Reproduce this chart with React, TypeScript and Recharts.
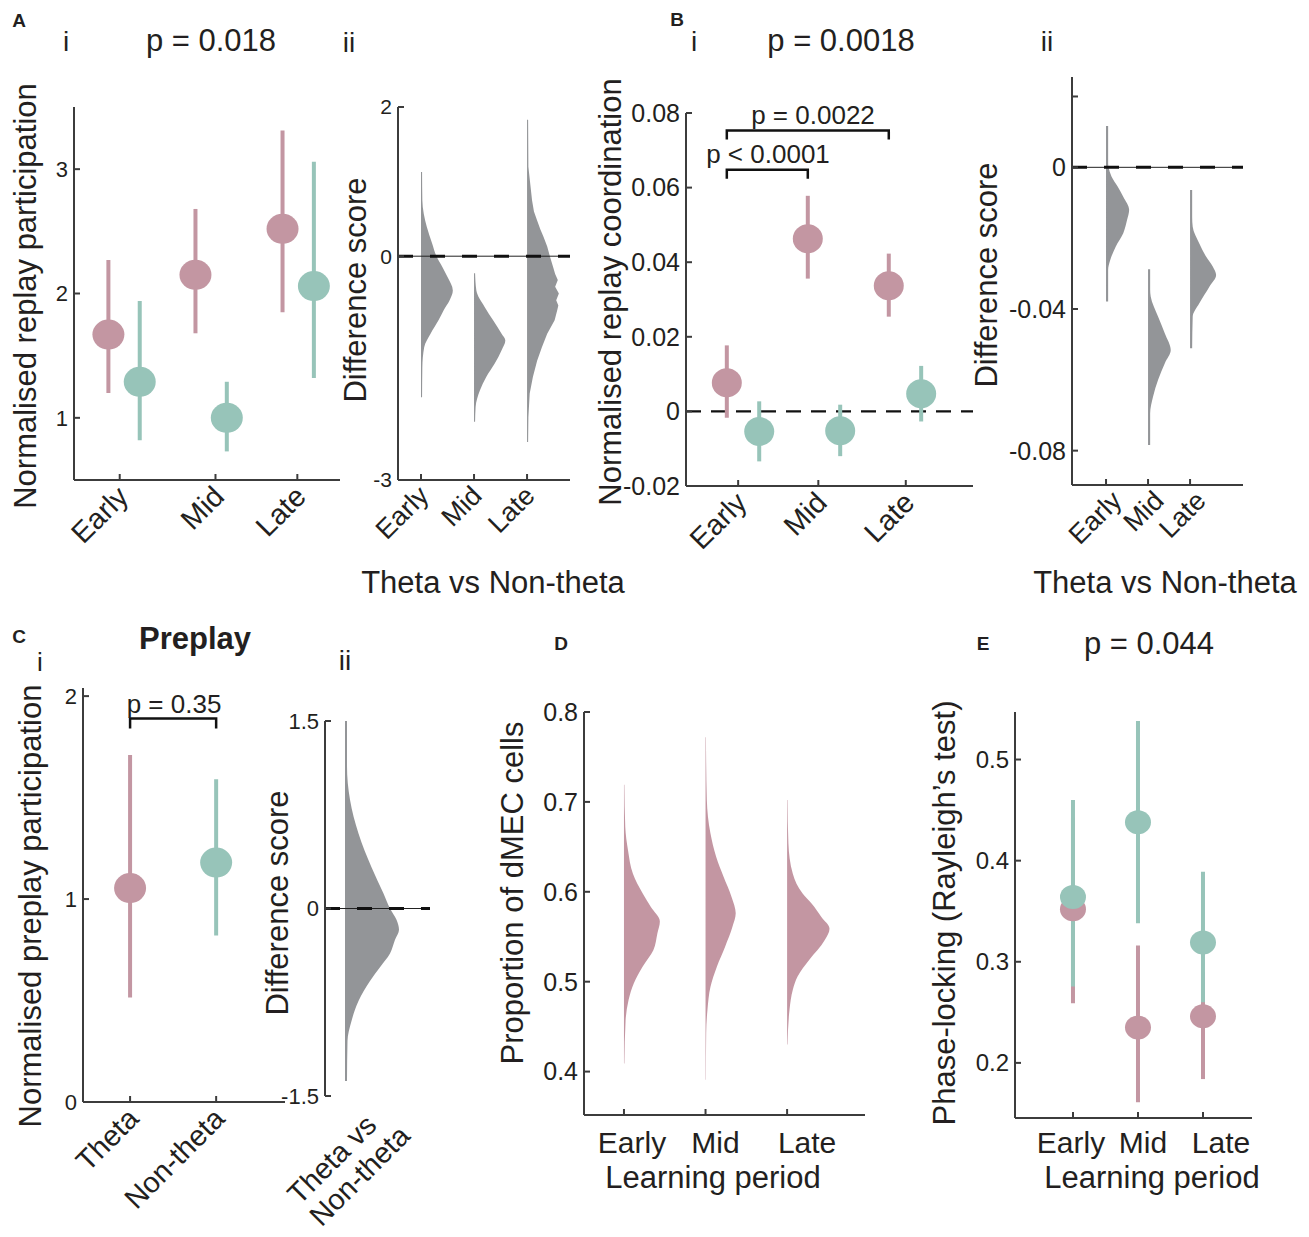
import React from "react";
import { Area, ComposedChart, ErrorBar, Line, ReferenceLine, Scatter, XAxis, YAxis } from "recharts";

const FONT = '"Liberation Sans", Arial, Helvetica, sans-serif';
const PINK = "#c396a2";
const TEAL = "#97c4b9";
const GREY = "#939598";
const INK = "#231f20";
const AXIS = "#3c3c3c";

const PERIODS = ["Early", "Mid", "Late"];
const STATES = ["Theta", "Non-theta"];

// A i - normalised replay participation, mean and interval
const A1_THETA = [1.67, 2.15, 2.52];
const A1_THETA_LO = [1.2, 1.68, 1.85];
const A1_THETA_HI = [2.27, 2.68, 3.31];
const A1_NONTHETA = [1.29, 1.0, 2.06];
const A1_NONTHETA_LO = [0.82, 0.73, 1.32];
const A1_NONTHETA_HI = [1.94, 1.29, 3.06];
const A1_TICKS = [0.95, 2.05, 2.99];

// A ii - difference score distributions, [value, half width]
const A2_EARLY = [
  [1.13, 0.02], [0.75, 0.025], [0.39, 0.11], [0.17, 0.21], [0, 0.29], [-0.14, 0.4], [-0.28, 0.5],
  [-0.46, 0.6], [-0.59, 0.54], [-0.72, 0.43], [-0.86, 0.33], [-1.04, 0.18], [-1.22, 0.06],
  [-1.49, 0.025], [-1.89, 0.02],
];
const A2_MID = [
  [-0.23, 0.02], [-0.46, 0.044], [-0.68, 0.2], [-0.86, 0.36], [-1.04, 0.52], [-1.13, 0.59],
  [-1.26, 0.52], [-1.44, 0.39], [-1.62, 0.23], [-1.8, 0.11], [-2.02, 0.03], [-2.22, 0.02],
];
const A2_LATE = [
  [1.83, 0.02], [1.2, 0.025], [0.75, 0.094], [0.6, 0.13], [0.48, 0.19], [0.36, 0.25], [0.26, 0.31],
  [0.13, 0.38], [0, 0.43], [-0.14, 0.49], [-0.24, 0.53], [-0.32, 0.58], [-0.41, 0.53],
  [-0.5, 0.6], [-0.59, 0.55], [-0.66, 0.59], [-0.72, 0.57], [-0.86, 0.52], [-0.95, 0.45],
  [-1.04, 0.38], [-1.22, 0.28], [-1.4, 0.19], [-1.62, 0.11], [-1.84, 0.05], [-2.16, 0.025],
  [-2.49, 0.02],
];

// B i - normalised replay coordination
const B1_THETA = [0.0077, 0.0463, 0.0337];
const B1_THETA_LO = [-0.0017, 0.0356, 0.0254];
const B1_THETA_HI = [0.0177, 0.0578, 0.0423];
const B1_NONTHETA = [-0.0054, -0.0052, 0.0047];
const B1_NONTHETA_LO = [-0.0134, -0.012, -0.0027];
const B1_NONTHETA_HI = [0.0027, 0.0018, 0.0122];
const B1_TICKS = [0.94, 1.93, 3.01];

// B ii - difference score distributions
const B2_EARLY = [
  [0.0117, 0.05], [0.001, 0.05], [0, 0.06], [-0.0026, 0.13], [-0.0055, 0.28], [-0.0083, 0.41],
  [-0.012, 0.55], [-0.0149, 0.5], [-0.0186, 0.41], [-0.0224, 0.23], [-0.0262, 0.1],
  [-0.029, 0.05], [-0.0379, 0.05],
];
const B2_MID = [
  [-0.0288, 0.05], [-0.0345, 0.05], [-0.0365, 0.063], [-0.0422, 0.24], [-0.0469, 0.4],
  [-0.0516, 0.54], [-0.0553, 0.4], [-0.06, 0.24], [-0.0647, 0.12], [-0.0695, 0.05], [-0.0784, 0.05],
];
const B2_LATE = [
  [-0.0064, 0.05], [-0.014, 0.05], [-0.0168, 0.063], [-0.0215, 0.22], [-0.0252, 0.38],
  [-0.028, 0.54], [-0.0304, 0.62], [-0.0337, 0.46], [-0.0384, 0.22], [-0.0422, 0.063], [-0.0511, 0.05],
];

// C i - preplay participation
const C1_MEAN = [1.054, 1.18];
const C1_LO = [0.515, 0.82];
const C1_HI = [1.71, 1.59];

// C ii - difference score distribution
const C2_DIFF = [
  [1.51, 0.04], [1.14, 0.04], [0.87, 0.1], [0.6, 0.27], [0.33, 0.53], [0.12, 0.77], [0, 0.9],
  [-0.09, 1.03], [-0.17, 1.08], [-0.25, 1.0], [-0.36, 0.9], [-0.47, 0.7], [-0.58, 0.5],
  [-0.74, 0.27], [-0.9, 0.13], [-1.06, 0.05], [-1.38, 0.04],
];

// D - proportion of dMEC cells
const D_EARLY = [
  [0.719, 0.005], [0.672, 0.016], [0.646, 0.05], [0.62, 0.11], [0.598, 0.23], [0.583, 0.33],
  [0.567, 0.44], [0.554, 0.41], [0.535, 0.36], [0.517, 0.23], [0.498, 0.12], [0.48, 0.057],
  [0.457, 0.02], [0.409, 0.005],
];
const D_MID = [
  [0.772, 0.005], [0.702, 0.016], [0.665, 0.06], [0.639, 0.13], [0.617, 0.22], [0.594, 0.32],
  [0.576, 0.37], [0.561, 0.33], [0.539, 0.24], [0.517, 0.14], [0.494, 0.06], [0.469, 0.024],
  [0.443, 0.008], [0.391, 0.004],
];
const D_LATE = [
  [0.702, 0.005], [0.654, 0.016], [0.62, 0.07], [0.598, 0.19], [0.587, 0.3], [0.572, 0.42],
  [0.559, 0.52], [0.546, 0.46], [0.524, 0.27], [0.506, 0.13], [0.491, 0.07], [0.469, 0.03],
  [0.43, 0.005],
];

// E - phase locking
const E_THETA = [0.352, 0.235, 0.246];
const E_THETA_LO = [0.259, 0.161, 0.184];
const E_THETA_HI = [0.443, 0.316, 0.29];
const E_NONTHETA = [0.364, 0.438, 0.319];
const E_NONTHETA_LO = [0.2755, 0.338, 0.26];
const E_NONTHETA_HI = [0.46, 0.538, 0.389];

function points(mean: number[], lo: number[], hi: number[], shift: number) {
  return mean.map((m, i) => ({ x: i + 1 + shift, y: m, err: [m - lo[i], hi[i] - m] }));
}

function violin(profile: number[][], at: number) {
  return profile.map(([y, w]) => ({ y, band: [at, at + w] }));
}

const YW = 80;
const XH = 135;
const MT = 16;
const MR = 16;
const axisStyle = { stroke: AXIS, strokeWidth: 2 };

function Panel({ box, layout, children }: { box: number[]; layout?: "vertical" | "horizontal"; children: React.ReactNode }) {
  const [l, t, r, b] = box;
  return (
    <div style={{ position: "absolute", left: l - YW, top: t - MT }}>
      <ComposedChart
        width={YW + r - l + MR}
        height={MT + b - t + XH}
        margin={{ top: MT, right: MR, bottom: 0, left: 0 }}
        layout={layout ?? "horizontal"}
      >
        {children}
      </ComposedChart>
    </div>
  );
}

function SlantTick(props: any) {
  const { x, y, index, names, size, nudge = 0 } = props;
  const ax = x - 5 + nudge;
  const ay = y + 3;
  return (
    <text
      x={ax}
      y={ay}
      dy="0.75em"
      textAnchor="end"
      transform={`rotate(-45 ${ax} ${ay})`}
      fontSize={size}
      fontFamily={FONT}
      fill={INK}
    >
      {names[index]}
    </text>
  );
}

function FlatTick(props: any) {
  const { x, y, index, names, shift, drop } = props;
  return (
    <text x={x + shift[index]} y={y + drop} textAnchor="middle" fontSize={30} fontFamily={FONT} fill={INK}>
      {names[index]}
    </text>
  );
}

function yAxis(domain: number[], ticks: number[], size: number, flip = false, fmt?: (v: number) => string) {
  return (
    <YAxis
      type="number"
      dataKey="y"
      domain={domain}
      ticks={ticks}
      reversed={flip}
      allowDataOverflow
      interval={0}
      width={YW}
      axisLine={axisStyle}
      tickLine={axisStyle}
      tickSize={-6}
      tickMargin={12}
      tick={{ fill: INK, fontSize: size, fontFamily: FONT }}
      tickFormatter={fmt ?? ((v: number) => String(v))}
    />
  );
}

function xAxis(domain: number[], ticks: number[], tick: React.ReactElement | false, hidden?: boolean) {
  return (
    <XAxis
      type="number"
      dataKey="x"
      domain={domain}
      ticks={ticks}
      allowDataOverflow
      interval={0}
      height={XH}
      axisLine={hidden ? false : axisStyle}
      tickLine={hidden ? false : axisStyle}
      tickSize={-6}
      tickMargin={6}
      tick={tick}
    />
  );
}

const dot = (fill: string, rx: number, ry: number) => (p: any) => (
  <ellipse cx={p.cx} cy={p.cy} rx={rx} ry={ry} fill={fill} />
);

function zeroLine(dash: string, width: number, thin: boolean) {
  return [
    thin ? <ReferenceLine key="thin" y={0} stroke="#222" strokeWidth={1} /> : null,
    <ReferenceLine key="dash" y={0} stroke="#111" strokeWidth={width} strokeDasharray={dash} />,
  ];
}

function Text({ x, y, size = 31, bold, rotate, children }: any) {
  return (
    <div
      style={{
        position: "absolute",
        left: x,
        top: y,
        transform: `translate(-50%, -50%)${rotate ? ` rotate(${rotate}deg)` : ""}`,
        fontSize: size,
        fontWeight: bold ? 700 : 400,
        fontFamily: FONT,
        color: INK,
        whiteSpace: "nowrap",
        lineHeight: 1,
      }}
    >
      {children}
    </div>
  );
}

function bracket(x1: number, x2: number, top: number, foot: number) {
  return [
    { x: x1, y: foot },
    { x: x1, y: top },
    { x: x2, y: top },
    { x: x2, y: foot },
  ];
}

export default function App() {
  const violinArea = (key: string, data: any[], fill: string, curve: "monotone" | "linear" = "monotone") => (
    <Area
      key={key}
      data={data}
      dataKey="band"
      type={curve}
      stroke="none"
      fill={fill}
      fillOpacity={1}
      dot={false}
      activeDot={false}
      isAnimationActive={false}
    />
  );

  return (
    <div style={{ position: "absolute", left: 0, top: 0, width: 1309, height: 1237, background: "#fff", fontFamily: FONT }}>
      {/* A i */}
      <Panel box={[74, 107, 340, 480]}>
        {xAxis([0.425, 3.48], A1_TICKS, <SlantTick names={PERIODS} size={29} />)}
        {yAxis([0.5, 3.5], [1, 2, 3], 22)}
        <Scatter data={points(A1_THETA, A1_THETA_LO, A1_THETA_HI, -0.18)} fill={PINK} shape={dot(PINK, 16, 15)} isAnimationActive={false}>
          <ErrorBar dataKey="err" direction="y" width={0} stroke={PINK} strokeWidth={4} isAnimationActive={false} />
        </Scatter>
        <Scatter data={points(A1_NONTHETA, A1_NONTHETA_LO, A1_NONTHETA_HI, 0.18)} fill={TEAL} shape={dot(TEAL, 16, 15)} isAnimationActive={false}>
          <ErrorBar dataKey="err" direction="y" width={0} stroke={TEAL} strokeWidth={4} isAnimationActive={false} />
        </Scatter>
      </Panel>

      {/* A ii */}
      <Panel box={[398, 107, 570, 480]} layout="vertical">
        {xAxis([0.566, 3.81], [1, 2, 3], <SlantTick names={PERIODS} size={27} />)}
        {yAxis([-3, 2], [-3, 0, 2], 21, true)}
        {violinArea("e", violin(A2_EARLY, 1), GREY)}
        {violinArea("m", violin(A2_MID, 2), GREY)}
        {violinArea("l", violin(A2_LATE, 3), GREY, "linear")}
        {zeroLine("15 17", 3, true)}
      </Panel>

      {/* B i */}
      <Panel box={[686, 113, 973, 486]}>
        {xAxis([0.296, 3.84], B1_TICKS, <SlantTick names={PERIODS} size={29} />)}
        {yAxis([-0.02, 0.08], [-0.02, 0, 0.02, 0.04, 0.06, 0.08], 25)}
        {zeroLine("15 10", 2.2, false)}
        <Line data={bracket(0.8, 2.8, 0.0753, 0.0729)} dataKey="y" type="linear" stroke="#111" strokeWidth={2.5} dot={false} isAnimationActive={false} />
        <Line data={bracket(0.8, 1.8, 0.0648, 0.0624)} dataKey="y" type="linear" stroke="#111" strokeWidth={2.5} dot={false} isAnimationActive={false} />
        <Scatter data={points(B1_THETA, B1_THETA_LO, B1_THETA_HI, -0.2)} fill={PINK} shape={dot(PINK, 15, 14.5)} isAnimationActive={false}>
          <ErrorBar dataKey="err" direction="y" width={0} stroke={PINK} strokeWidth={4} isAnimationActive={false} />
        </Scatter>
        <Scatter data={points(B1_NONTHETA, B1_NONTHETA_LO, B1_NONTHETA_HI, 0.2)} fill={TEAL} shape={dot(TEAL, 15, 14.5)} isAnimationActive={false}>
          <ErrorBar dataKey="err" direction="y" width={0} stroke={TEAL} strokeWidth={4} isAnimationActive={false} />
        </Scatter>
      </Panel>

      {/* B ii */}
      <Panel box={[1072, 77, 1243, 485]} layout="vertical">
        {xAxis([0.19, 4.26], [1, 2, 3], <SlantTick names={PERIODS} size={27} nudge={8} />)}
        {yAxis([-0.0897, 0.0255], [-0.08, -0.04, 0, 0.02], 25, true, (v) => (v === 0.02 ? "" : String(v)))}
        {violinArea("e", violin(B2_EARLY, 1), GREY)}
        {violinArea("m", violin(B2_MID, 2), GREY)}
        {violinArea("l", violin(B2_LATE, 3), GREY)}
        {zeroLine("15 17", 3, true)}
      </Panel>

      {/* C i */}
      <Panel box={[83, 688, 285, 1102]}>
        {xAxis([0.453, 2.8], [1, 2], <SlantTick names={STATES} size={29} />)}
        {yAxis([0, 2.04], [0, 1, 2], 22)}
        <Line data={bracket(1, 2, 1.89, 1.84)} dataKey="y" type="linear" stroke="#111" strokeWidth={2.5} dot={false} isAnimationActive={false} />
        <Scatter data={points(C1_MEAN, C1_LO, C1_HI, 0).slice(0, 1)} fill={PINK} shape={dot(PINK, 16, 15)} isAnimationActive={false}>
          <ErrorBar dataKey="err" direction="y" width={0} stroke={PINK} strokeWidth={4} isAnimationActive={false} />
        </Scatter>
        <Scatter data={points(C1_MEAN, C1_LO, C1_HI, 0).slice(1)} fill={TEAL} shape={dot(TEAL, 16, 15)} isAnimationActive={false}>
          <ErrorBar dataKey="err" direction="y" width={0} stroke={TEAL} strokeWidth={4} isAnimationActive={false} />
        </Scatter>
      </Panel>

      {/* C ii */}
      <Panel box={[325, 721, 430, 1096]} layout="vertical">
        {xAxis([0, 2.1], [], false, true)}
        {yAxis([-1.5, 1.5], [-1.5, 0, 1.5], 22, true)}
        {violinArea("d", violin(C2_DIFF, 0.4), GREY)}
        {zeroLine("15 17", 3, true)}
      </Panel>

      {/* D */}
      <Panel box={[584, 712, 865, 1115]} layout="vertical">
        {xAxis([0.51, 3.955], [1, 2, 3], <FlatTick names={PERIODS} shift={[8, 10, 20]} drop={38} />)}
        {yAxis([0.3517, 0.8], [0.4, 0.5, 0.6, 0.7, 0.8], 25, true)}
        {violinArea("e", violin(D_EARLY, 1), PINK)}
        {violinArea("m", violin(D_MID, 2), PINK)}
        {violinArea("l", violin(D_LATE, 3), PINK)}
      </Panel>

      {/* E */}
      <Panel box={[1015, 712, 1252, 1118]}>
        {xAxis([0.108, 3.754], [1, 2, 3], <FlatTick names={PERIODS} shift={[-2, 5, 18]} drop={35} />)}
        {yAxis([0.1455, 0.547], [0.2, 0.3, 0.4, 0.5], 24)}
        <Scatter data={points(E_THETA, E_THETA_LO, E_THETA_HI, 0)} fill={PINK} shape={dot(PINK, 13, 12)} isAnimationActive={false}>
          <ErrorBar dataKey="err" direction="y" width={0} stroke={PINK} strokeWidth={4} isAnimationActive={false} />
        </Scatter>
        <Scatter data={points(E_NONTHETA, E_NONTHETA_LO, E_NONTHETA_HI, 0)} fill={TEAL} shape={dot(TEAL, 13, 12)} isAnimationActive={false}>
          <ErrorBar dataKey="err" direction="y" width={0} stroke={TEAL} strokeWidth={4} isAnimationActive={false} />
        </Scatter>
      </Panel>

      {/* panel letters and titles */}
      <Text x={19} y={20} size={19} bold>A</Text>
      <Text x={66} y={42} size={28}>i</Text>
      <Text x={211} y={40}>p = 0.018</Text>
      <Text x={349} y={43} size={28}>ii</Text>
      <Text x={25} y={296} rotate={-90}>Normalised replay participation</Text>
      <Text x={355} y={290} rotate={-90}>Difference score</Text>
      <Text x={493} y={582}>Theta vs Non-theta</Text>

      <Text x={677} y={19} size={19} bold>B</Text>
      <Text x={694} y={42} size={28}>i</Text>
      <Text x={841} y={40}>p = 0.0018</Text>
      <Text x={1047} y={42} size={28}>ii</Text>
      <Text x={610} y={292} rotate={-90}>Normalised replay coordination</Text>
      <Text x={986} y={275} rotate={-90}>Difference score</Text>
      <Text x={1165} y={582}>Theta vs Non-theta</Text>
      <Text x={813} y={115} size={26}>p = 0.0022</Text>
      <Text x={768} y={154} size={26}>p &lt; 0.0001</Text>

      <Text x={19} y={636} size={19} bold>C</Text>
      <Text x={40} y={662} size={26}>i</Text>
      <Text x={195} y={638} size={31} bold>Preplay</Text>
      <Text x={30} y={906} rotate={-90}>Normalised preplay participation</Text>
      <Text x={174} y={704} size={26}>p = 0.35</Text>
      <Text x={345} y={661} size={28}>ii</Text>
      <Text x={277} y={903} rotate={-90}>Difference score</Text>
      <div
        style={{
          position: "absolute",
          left: 372,
          top: 1098,
          transformOrigin: "100% 0",
          transform: "translate(-100%, 0) rotate(-45deg)",
          fontSize: 29,
          lineHeight: "31px",
          fontFamily: FONT,
          color: INK,
          whiteSpace: "nowrap",
        }}
      >
        Theta vs
        <br />
        Non-theta
      </div>

      <Text x={561} y={643} size={19} bold>D</Text>
      <Text x={512} y={893} rotate={-90}>Proportion of dMEC cells</Text>
      <Text x={713} y={1177}>Learning period</Text>

      <Text x={983} y={643} size={19} bold>E</Text>
      <Text x={1149} y={643}>p = 0.044</Text>
      <Text x={944} y={913} rotate={-90}>Phase-locking (Rayleigh’s test)</Text>
      <Text x={1152} y={1177}>Learning period</Text>
    </div>
  );
}
